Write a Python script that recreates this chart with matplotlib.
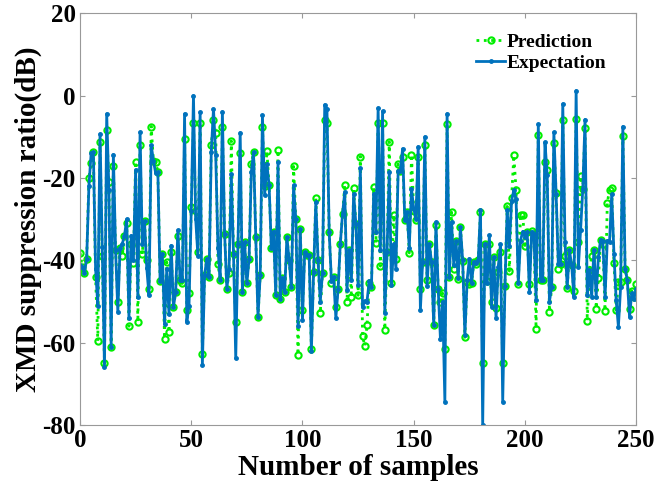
import numpy as np
import matplotlib
matplotlib.use("Agg")
import matplotlib.pyplot as plt

# expectation (blue) and prediction (green), in sample order
expectation = [
    -41.2, -41.6, -43, -39.6, -22, -14, -13.7, -42, -51, -9.3,
    -36.8, -66, -4.4, -23, -61, -14.3, -37.6, -52.5, -37, -36,
    -34, -30, -54, -34, -40, -18, -49, -8.9, -36, -30.5,
    -41.8, -48.5, -12, -15.8, -18.8, -18.6, -45, -38.4, -55.5, -42,
    -53, -36.4, -51.3, -47.7, -32.7, -44.8, -44.8, -4.4, -55, -51,
    -28, 0,
    -30, -39, -4, -65.4, -43.6, -39.6, -44, -13.7, -3.2, -14.3,
    -37, -44.7, -3.9, -33.5, -46.9, -42, -19, -38.4, -63.8, -36,
    -9, -47.7, -35.6, -45.6, -39.6, -18.6, -13.7, -34.3, -53.7, -43.6,
    -4.8, -24.2, -16.6, -21.8, -37, -33, -48.5, -16.2, -49.3, -44.4,
    -47.7, -34.3, -40, -46.5, -21.8, -29.9, -56, -32.3, -54.5,
    -38, -38.8, -38.8, -62, -42.8, -25.9, -40, -50, -43, -2.2,
    -3.2, -33, -45, -44, -54, -47, -36, -28.7, -23.4, -47.3,
    -37.6, -44.8, -23.8, -31.1, -46, -17.5, -51.3, -49.9, -50, -45,
    -46.5, -23.8, -33, -3, -37.6, -3.8, -52.8, -38, -18.6, -46,
    -36, -42, -18.3, -18.2, -12.9, -30.3, -28.3, -37, -22.6,
    -27.5, -29.9, -12.4, -52, -40.4, -10, -46.3, -36, -40.4, -55.8,
    -30.7, -47, -59, -50, -74.3, -4.4, -44, -30.7, -41.2, -35.2,
    -44.4, -32, -40, -58.2, -44.8, -39.6, -45.5, -40.4, -40.6, -40,
    -27.7, -80, -36, -45.5, -33.9, -51.3, -39.2, -54, -41.6, -36.1,
    -74.3, -46.3, -27.7, -36.4, -25.5, -22.9, -25.1, -45.6, -35.2,
    -33, -34.3, -33, -47.7, -33, -33.5, -49.7, -6.9, -44.8, -44.8,
    -11.3, -19.3, -50, -46.5, -8.9, -23.8, -41, -40.8, -2, -35.6,
    -46.5, -37.6, -41.2, -48.9, 1.2, -41.6, -32.7, -22.6, -5.8, -48.5,
    -42.4, -48.9, -37.4, -48.9, -39.2, -35, -35.2, -49, -35.2, -35.6,
    -24, -38.4, -49.7, -56.1, -46.5, -7.5, -42, -44.8, -53.7, -48,
    -49.3, -46.9,
]
prediction = [
    -38.1, -41.6, -43, -39.6, -20, -16.4, -13.7, -44, -59.6, -11.3,
    -39, -65, -8.4, -21, -61, -17, -37.6, -50, -37, -39,
    -34, -31, -56, -36, -40.6, -16, -55, -12, -38.5, -30.5,
    -40, -47, -7.5, -15.8, -16, -18.6, -45, -38.4, -59, -40.4,
    -57.5, -38, -51.3, -47.7, -34, -44.8, -45.6, -10.5, -52, -48,
    -27, -6.7,
    -28, -38, -6.7, -62.8, -43.6, -39.6, -44, -11.9, -5.9, -9,
    -40.8, -44.7, -7.7, -33.5, -46.9, -43, -11, -38.4, -55, -36,
    -14, -47.7, -35.6, -45.6, -39.6, -16.6, -13.7, -34.3, -53.7, -43.6,
    -7.7, -22, -13.5, -21.8, -37, -33, -48.5, -13.3, -49.3, -44.4,
    -47.7, -34.3, -40, -46.5, -17.2, -29.9, -63, -32.3, -52,
    -38, -38.8, -38.8, -61.5, -42.8, -24.8, -40, -52.8, -43, -5.9,
    -6.7, -33, -45.4, -44, -51.3, -47, -36, -28.7, -21.6, -50,
    -37.6, -49, -22.4, -31.1, -48.5, -14.8, -58.4, -60.8, -55.8, -45.4,
    -46.5, -22.2, -35.8, -6.7, -41.4, -6.7, -56.8, -38, -11.2, -45.5,
    -29, -39.6, -16.6, -18.2, -15, -30.3, -28.3, -38.2, -14.3,
    -27.9, -30.1, -14.8, -47, -40.4, -12, -44.8, -36, -40.4, -55.8,
    -31.5, -47, -50, -48, -61.6, -6.9, -44, -28.3, -42.2, -35.2,
    -44.6, -32, -40.2, -58.7, -45.2, -45.8, -45.5, -40.4, -40.8, -40,
    -28.3, -64.9, -36, -45, -36.1, -50.1, -39.2, -51.5, -42.8, -38,
    -65, -46.3, -26.9, -42.6, -24.8, -14.5, -23, -45.8, -29.1,
    -29, -36.4, -33, -45.8, -32.8, -33.5, -56.6, -9.5, -44.8, -44.8,
    -16, -18, -52.5, -46.5, -11.5, -23.6, -42, -40.8, -5.9, -39,
    -46.6, -37.6, -41.2, -47.5, -5.6, -35.6, -19.6, -22.6, -7.8, -54.7,
    -42.4, -39, -37.4, -51.7, -44.4, -35, -36.1, -52.3, -26, -23,
    -22.4, -40.6, -52.1, -45.2, -45.2, -9.7, -42, -44.8, -51.7, -47.4,
    -48.8, -45.8,
]
samples = np.arange(len(expectation))

plt.rcParams['font.family'] = ['Liberation Serif', 'DejaVu Serif']
plt.rcParams['font.weight'] = 'bold'
plt.rcParams['axes.unicode_minus'] = False

fig = plt.figure(figsize=(6.59, 5.03), dpi=100)
ax = fig.add_axes([0.1214, 0.155, 0.844, 0.8186])

ax.plot(samples, prediction, color='#00ee00', linestyle=':', linewidth=2.0,
        marker='o', markersize=4.5, markerfacecolor='none', markeredgewidth=1.5,
        label='Prediction')
ax.plot(samples, expectation, color='#0072bd', linestyle='-', linewidth=2.0,
        marker='.', markersize=5, label='Expectation')

ax.set_xlim(0, 250)
ax.set_ylim(-80, 20)
ax.set_xticks([0, 50, 100, 150, 200, 250])
ax.set_yticks([-80, -60, -40, -20, 0, 20])
ax.tick_params(direction='in', top=True, right=True, labelsize=18,
               color='#999999', length=3.5, pad=3)
for lab in ax.get_xticklabels() + ax.get_yticklabels():
    lab.set_fontweight('bold')
for sp in ax.spines.values():
    sp.set_color('#999999')

ax.set_xlabel('Number of samples', fontsize=21, fontweight='bold', labelpad=1)
ax.set_ylabel('XMD suppression ratio(dB)', fontsize=21, fontweight='bold', labelpad=0)

ax.legend(loc='upper left', bbox_to_anchor=(0.712, 0.952), frameon=False,
          prop={'size': 14, 'weight': 'bold'}, handlelength=1.5,
          handletextpad=0.1, labelspacing=0.2, borderpad=0, borderaxespad=0)

fig.savefig('out.png', dpi=100)
